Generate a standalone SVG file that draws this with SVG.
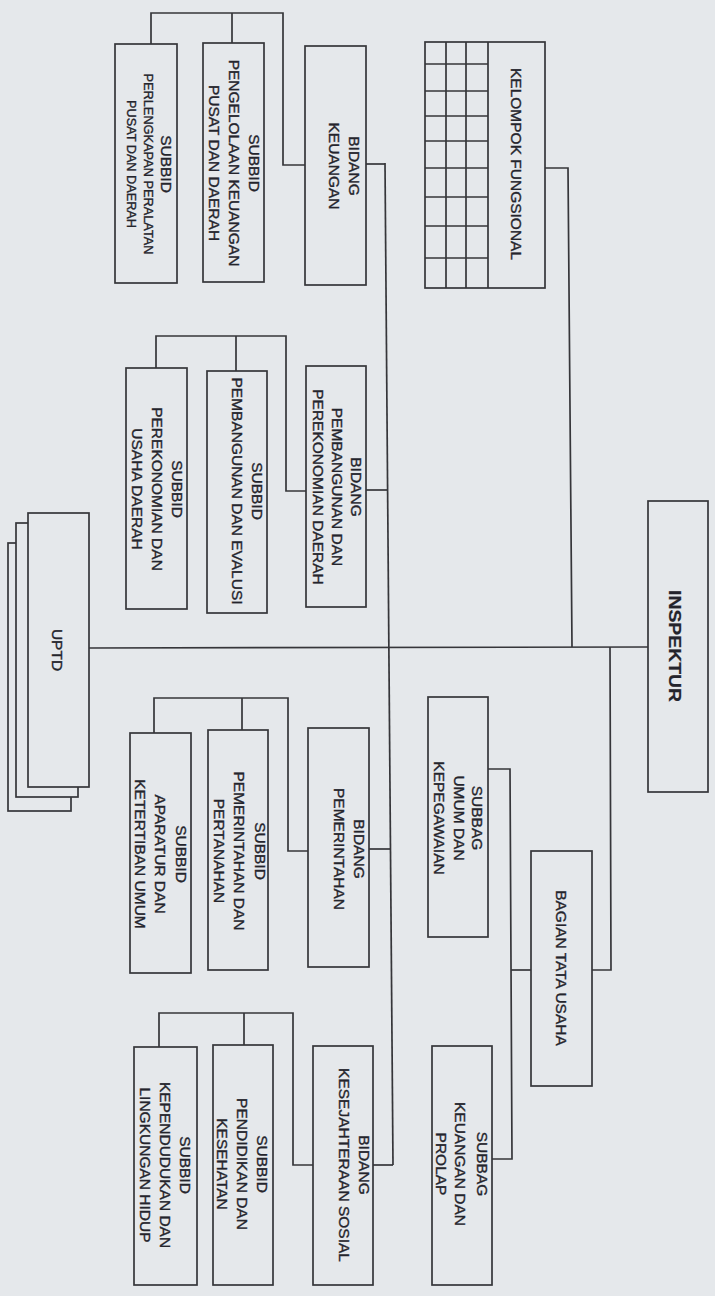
<svg xmlns="http://www.w3.org/2000/svg" width="715" height="1296" viewBox="0 0 715 1296">
<style>
.bg{fill:#e5e8eb}
.box{fill:#e5e8eb;stroke:#36363a;stroke-width:1.7}
.grid{fill:none;stroke:#36363a;stroke-width:1.7}
.conn{fill:none;stroke:#36363a;stroke-width:1.7}
.t{font-family:"Liberation Sans",Arial,sans-serif;font-size:15.5px;fill:#24242c;stroke:#24242c;stroke-width:0.35;text-anchor:middle}
.s{font-size:13.5px}
.b{font-weight:bold;font-size:16.5px;stroke-width:0.2}
</style>
<rect class="bg" x="0" y="0" width="715" height="1296"/>

<g id="connectors">
  <path class="conn" d="M151 44 V13 H283 V165 H305 M232 13 V43"/>
  <path class="conn" d="M366 164 H385"/>
  <path class="conn" d="M385 163 L393 1165"/>
  <path class="conn" d="M156 368 V336 H286 V491 H306 M236 336 V371"/>
  <path class="conn" d="M366 490 H387.6"/>
  <path class="conn" d="M154 733 V698 H288 V851 H308 M242 698 V730"/>
  <path class="conn" d="M369 849 H390.5"/>
  <path class="conn" d="M159 1047 V1013 H293 V1165 H313 M244 1013 V1045"/>
  <path class="conn" d="M373 1165 H393"/>
  <path class="conn" d="M545 168 H568 L572 647"/>
  <path class="conn" d="M89 648 L648 647"/>
  <path class="conn" d="M610 647 L611 970 H592"/>
  <path class="conn" d="M531 970 H511"/>
  <path class="conn" d="M488 769 H510 L512 1159 H492"/>
</g>

<g id="subbid-perlengkapan">
  <rect class="box" x="115" y="44" width="62" height="239"/>
  <text class="t" transform="translate(161.2,164) rotate(90)">SUBBID</text>
  <text class="t s" transform="translate(143.5,164) rotate(90)" textLength="181" lengthAdjust="spacingAndGlyphs">PERLENGKAPAN PERALATAN</text>
  <text class="t s" transform="translate(127.2,164) rotate(90)" textLength="128" lengthAdjust="spacingAndGlyphs">PUSAT DAN DAERAH</text>
</g>

<g id="subbid-pengelolaan">
  <rect class="box" x="203" y="43" width="61" height="239"/>
  <text class="t" transform="translate(248.5,163) rotate(90)">SUBBID</text>
  <text class="t" transform="translate(228.5,163) rotate(90)">PENGELOLAAN KEUANGAN</text>
  <text class="t" transform="translate(208.5,163) rotate(90)">PUSAT DAN DAERAH</text>
</g>

<g id="bidang-keuangan">
  <rect class="box" x="305" y="46" width="61" height="239"/>
  <text class="t" transform="translate(348.5,166) rotate(90)">BIDANG</text>
  <text class="t" transform="translate(328.5,166) rotate(90)">KEUANGAN</text>
</g>

<g id="kelompok-fungsional">
  <rect class="box" x="425" y="42" width="120" height="246"/>
  <path class="grid" d="M446 42 V288 M466 42 V288 M488 42 V288 M425 64 H488 M425 91 H488 M425 116 H488 M425 141 H488 M425 168 H488 M425 197 H488 M425 226 H488 M425 258 H488"/>
  <text class="t" transform="translate(510.5,164) rotate(90)">KELOMPOK FUNGSIONAL</text>
</g>

<g id="subbid-perekonomian">
  <rect class="box" x="126" y="368" width="61" height="241"/>
  <text class="t" transform="translate(171.5,489) rotate(90)">SUBBID</text>
  <text class="t" transform="translate(152,489) rotate(90)">PEREKONOMIAN DAN</text>
  <text class="t" transform="translate(132,489) rotate(90)">USAHA DAERAH</text>
</g>

<g id="subbid-pembangunan-evaluasi">
  <rect class="box" x="207" y="371" width="60" height="242"/>
  <text class="t" transform="translate(251.5,491) rotate(90)">SUBBID</text>
  <text class="t" transform="translate(231.5,491) rotate(90)">PEMBANGUNAN DAN EVALUSI</text>
</g>

<g id="bidang-pembangunan">
  <rect class="box" x="306" y="366" width="60" height="241"/>
  <text class="t" transform="translate(351.2,487) rotate(90)">BIDANG</text>
  <text class="t" transform="translate(332.2,487) rotate(90)">PEMBANGUNAN DAN</text>
  <text class="t" transform="translate(312.5,487) rotate(90)">PEREKONOMIAN DAERAH</text>
</g>

<g id="uptd">
  <rect class="box" x="8" y="543" width="63" height="268"/>
  <rect class="box" x="16" y="523" width="62" height="274"/>
  <rect class="box" x="28" y="513" width="61" height="274"/>
  <text class="t" transform="translate(52,650) rotate(90)">UPTD</text>
</g>

<g id="subbid-aparatur">
  <rect class="box" x="130" y="733" width="61" height="240"/>
  <text class="t" transform="translate(175.5,854) rotate(90)">SUBBID</text>
  <text class="t" transform="translate(155.2,854) rotate(90)">APARATUR DAN</text>
  <text class="t" transform="translate(135.2,854) rotate(90)">KETERTIBAN UMUM</text>
</g>

<g id="subbid-pemerintahan">
  <rect class="box" x="208" y="730" width="60" height="240"/>
  <text class="t" transform="translate(254.5,851) rotate(90)">SUBBID</text>
  <text class="t" transform="translate(233.8,851) rotate(90)">PEMERINTAHAN DAN</text>
  <text class="t" transform="translate(213.5,851) rotate(90)">PERTANAHAN</text>
</g>

<g id="bidang-pemerintahan">
  <rect class="box" x="308" y="728" width="61" height="239"/>
  <text class="t" transform="translate(353.8,849) rotate(90)">BIDANG</text>
  <text class="t" transform="translate(333.5,849) rotate(90)">PEMERINTAHAN</text>
</g>

<g id="subbid-kependudukan">
  <rect class="box" x="134" y="1047" width="63" height="238"/>
  <text class="t" transform="translate(180.2,1165) rotate(90)">SUBBID</text>
  <text class="t" transform="translate(160.2,1165) rotate(90)">KEPENDUDUKAN DAN</text>
  <text class="t" transform="translate(140.2,1165) rotate(90)">LINGKUNGAN HIDUP</text>
</g>

<g id="subbid-pendidikan">
  <rect class="box" x="213" y="1045" width="60" height="240"/>
  <text class="t" transform="translate(256.8,1164) rotate(90)">SUBBID</text>
  <text class="t" transform="translate(236.8,1164) rotate(90)">PENDIDIKAN DAN</text>
  <text class="t" transform="translate(216.8,1164) rotate(90)">KESEHATAN</text>
</g>

<g id="bidang-kesejahteraan">
  <rect class="box" x="313" y="1046" width="60" height="239"/>
  <text class="t" transform="translate(358.5,1165) rotate(90)">BIDANG</text>
  <text class="t" transform="translate(338.5,1165) rotate(90)">KESEJAHTERAAN SOSIAL</text>
</g>

<g id="subbag-umum">
  <rect class="box" x="428" y="697" width="60" height="240"/>
  <text class="t" transform="translate(471.8,818) rotate(90)">SUBBAG</text>
  <text class="t" transform="translate(453.5,818) rotate(90)">UMUM DAN</text>
  <text class="t" transform="translate(433.5,818) rotate(90)">KEPEGAWAIAN</text>
</g>

<g id="subbag-keuangan">
  <rect class="box" x="432" y="1046" width="60" height="239"/>
  <text class="t" transform="translate(476.8,1164) rotate(90)">SUBBAG</text>
  <text class="t" transform="translate(455.2,1164) rotate(90)">KEUANGAN  DAN</text>
  <text class="t" transform="translate(436.2,1164) rotate(90)">PROLAP</text>
</g>

<g id="bagian-tata-usaha">
  <rect class="box" x="531" y="851" width="61" height="235"/>
  <text class="t" transform="translate(555.5,968) rotate(90)">BAGIAN TATA USAHA</text>
</g>

<g id="inspektur">
  <rect class="box" x="648" y="501" width="60" height="291"/>
  <text class="t b" transform="translate(668.5,646) rotate(90)" textLength="112" lengthAdjust="spacingAndGlyphs">INSPEKTUR</text>
</g>
</svg>
